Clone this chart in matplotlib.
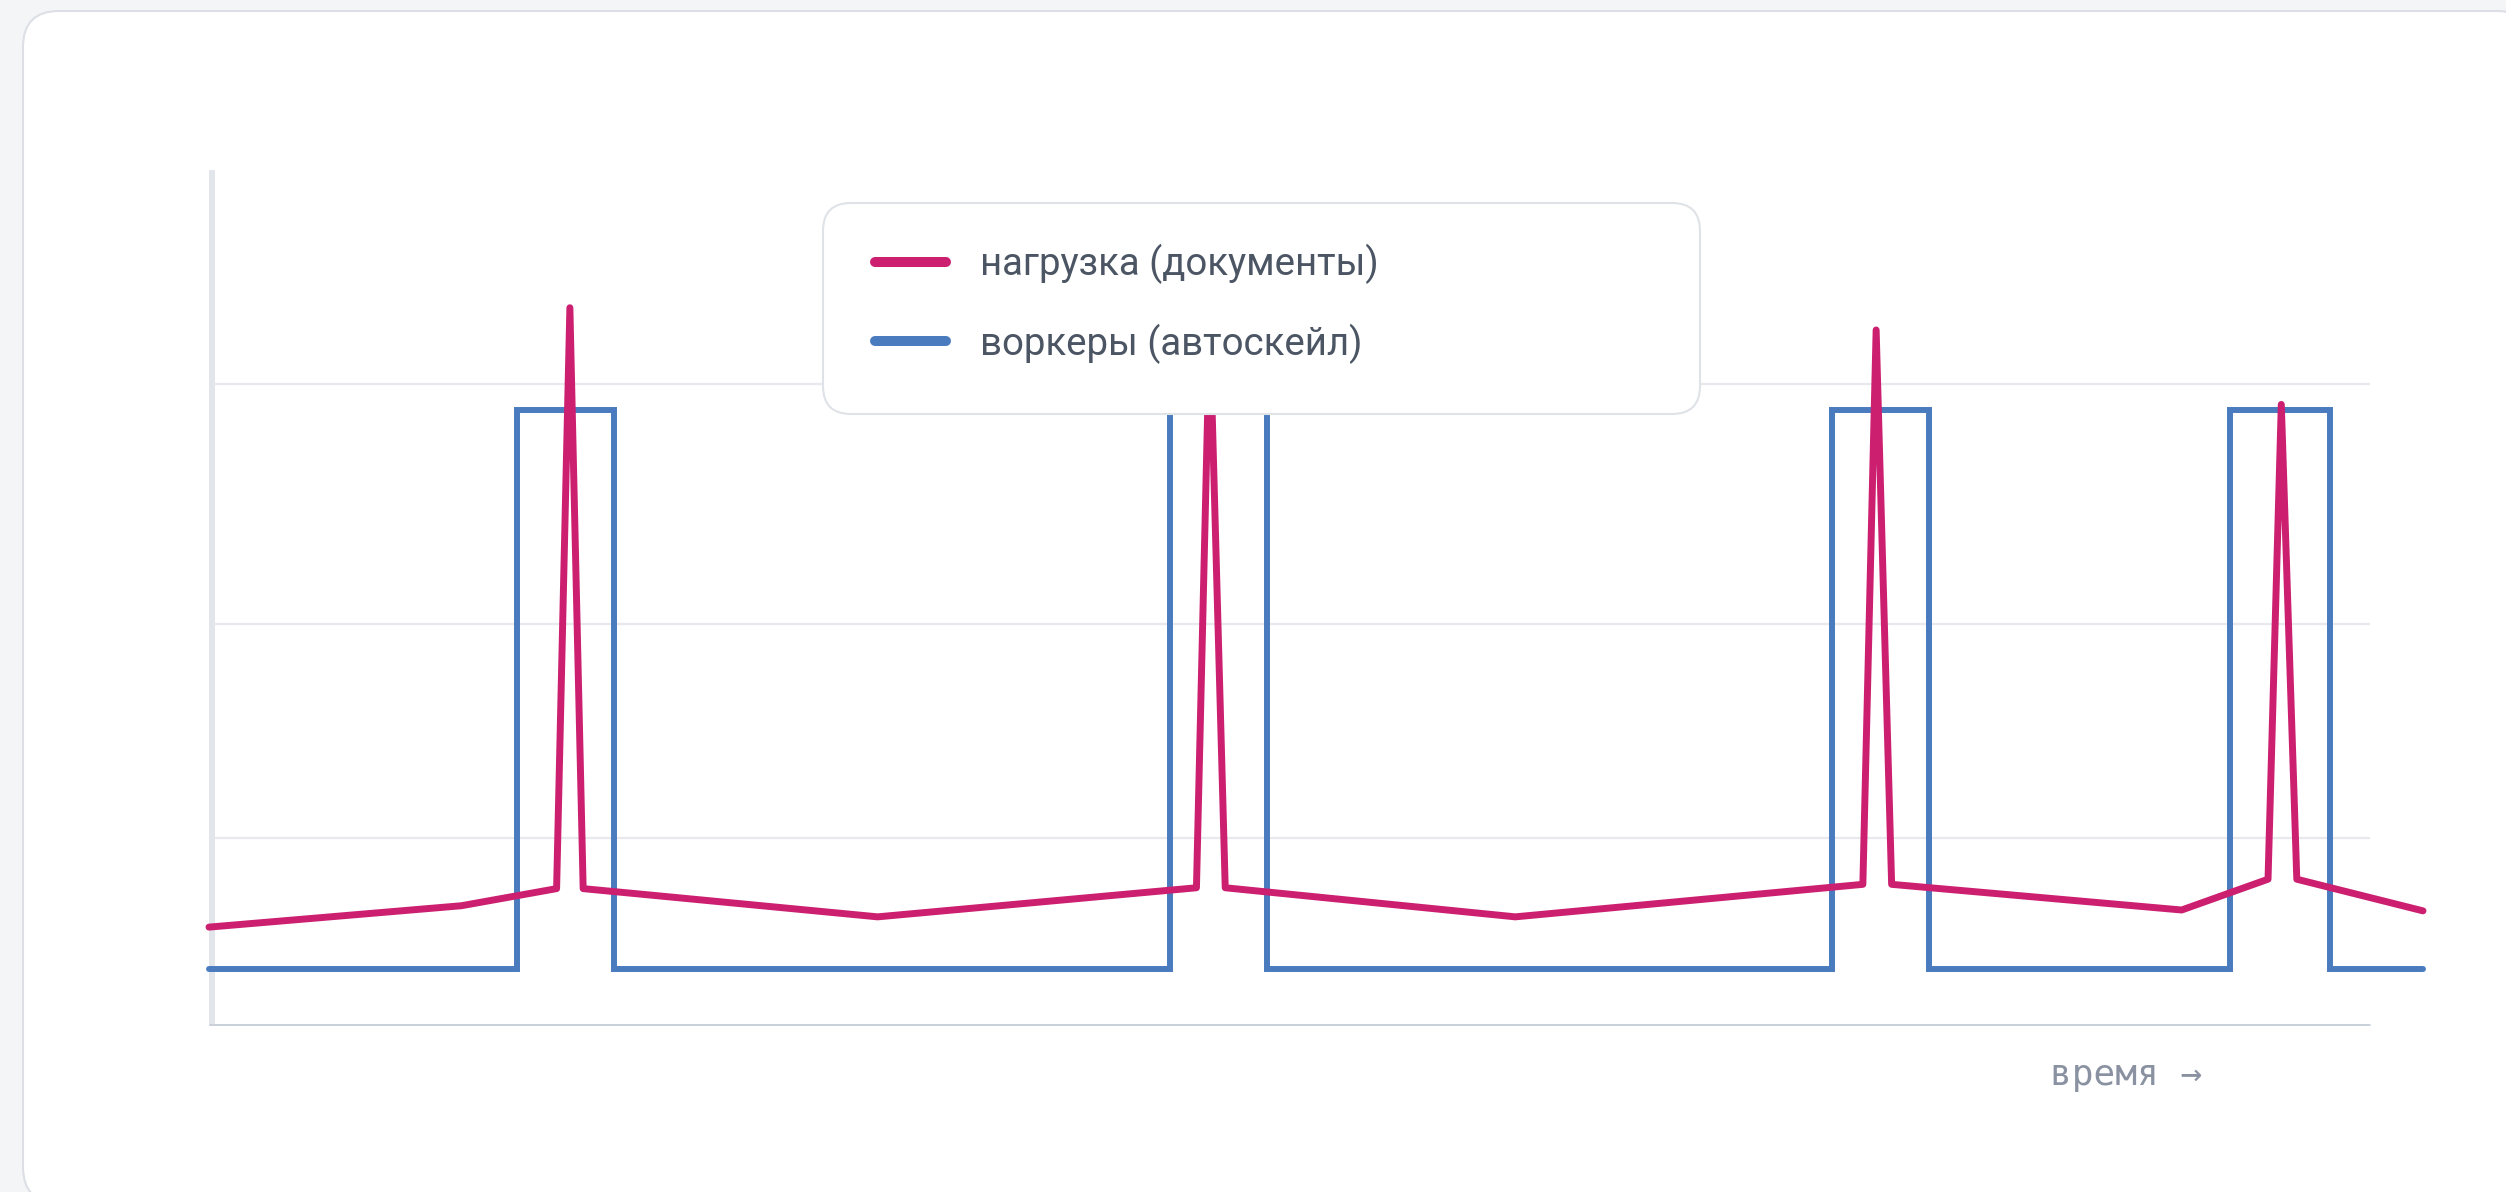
import matplotlib.pyplot as plt
from matplotlib.patches import FancyBboxPatch
from matplotlib.lines import Line2D

# load (documents) – relative units
load_t = [0, 11.4, 15.7, 16.3, 16.9, 30.2, 44.6, 45.2, 45.9, 59.0,
          74.7, 75.3, 76.0, 89.1, 93.0, 93.6, 94.3, 100]
load_v = [11.5, 14.0, 16.0, 83.9, 16.0, 12.7, 16.1, 82.0, 16.1, 12.7,
          16.5, 81.3, 16.5, 13.5, 17.1, 72.6, 17.1, 13.4]

# workers (autoscale), step function
work_t = [0, 13.9, 18.3, 43.4, 47.8, 73.3, 77.7, 91.3, 95.8, 100]
work_v = [6.6, 71.9, 6.6, 71.9, 6.6, 71.9, 6.6, 71.9, 6.6, 6.6]

grid_v = [21.9, 46.9, 75.0]
labels = ["нагрузка (документы)", "воркеры (автоскейл)"]
xlabel = "время →"

PINK = '#cc1f70'
BLUE = '#4a7bbf'

W, H = 2506, 1192
fig = plt.figure(figsize=(W / 100, H / 100), dpi=100)
fig.patch.set_facecolor('#f4f5f7')

# background card, in pixel coords
bg = fig.add_axes([0, 0, 1, 1])
bg.set_xlim(0, W)
bg.set_ylim(H, 0)
bg.axis('off')
bg.add_patch(FancyBboxPatch((23, 11), 2510, 1192,
                            boxstyle='round,pad=0,rounding_size=36',
                            fc='white', ec='#dcdfe5', lw=1.5))

ax = fig.add_axes([209 / W, 1 - 1025.5 / H, (2423 - 209) / W, (1025.5 - 170) / H])
ax.patch.set_alpha(0)
ax.set_xlim(0, 100)
ax.set_ylim(0, 100)
for s in ax.spines.values():
    s.set_visible(False)
ax.set_xticks([])
ax.set_yticks([])

axis_end = 97.6
ax.hlines(grid_v, 0, axis_end, color='#e8e9ef', lw=1.6, zorder=0)
ax.plot([0.13, 0.13], [0, 100], color='#e2e5ea', lw=4.3, solid_capstyle='butt', zorder=1)
ax.plot([0, axis_end], [0, 0], color='#cbd1db', lw=3.6, solid_capstyle='butt', zorder=1)

ax.plot(work_t, work_v, drawstyle='steps-post', color=BLUE, lw=4.3,
        solid_capstyle='round', solid_joinstyle='miter', clip_on=False, zorder=2)
ax.plot(load_t, load_v, color=PINK, lw=5.0,
        solid_capstyle='round', solid_joinstyle='round', clip_on=False, zorder=3)

# legend box
ax.add_patch(FancyBboxPatch((823, 203), 877, 211, transform=bg.transData,
                            boxstyle='round,pad=0,rounding_size=28',
                            fc='white', ec='#dfe2e7', lw=1.5, zorder=4, clip_on=False))
handles = [Line2D([], [], color=PINK, lw=7.2, solid_capstyle='round'),
           Line2D([], [], color=BLUE, lw=7.2, solid_capstyle='round')]
ax.legend(handles, labels, loc='upper left', bbox_to_anchor=(875, 244),
          bbox_transform=bg.transData, frameon=False, borderpad=0, borderaxespad=0,
          handlelength=1.85, handletextpad=0.9, labelspacing=1.02,
          prop={'family': ['Roboto', 'DejaVu Sans'], 'size': 27.6},
          labelcolor='#4b5563')

bg.text(2050, 1075, xlabel, ha='left', va='center', color='#8a92a2',
        fontsize=26, family=['DejaVu Sans Mono', 'DejaVu Sans'])

fig.savefig('out.png', dpi=100, facecolor=fig.get_facecolor())
